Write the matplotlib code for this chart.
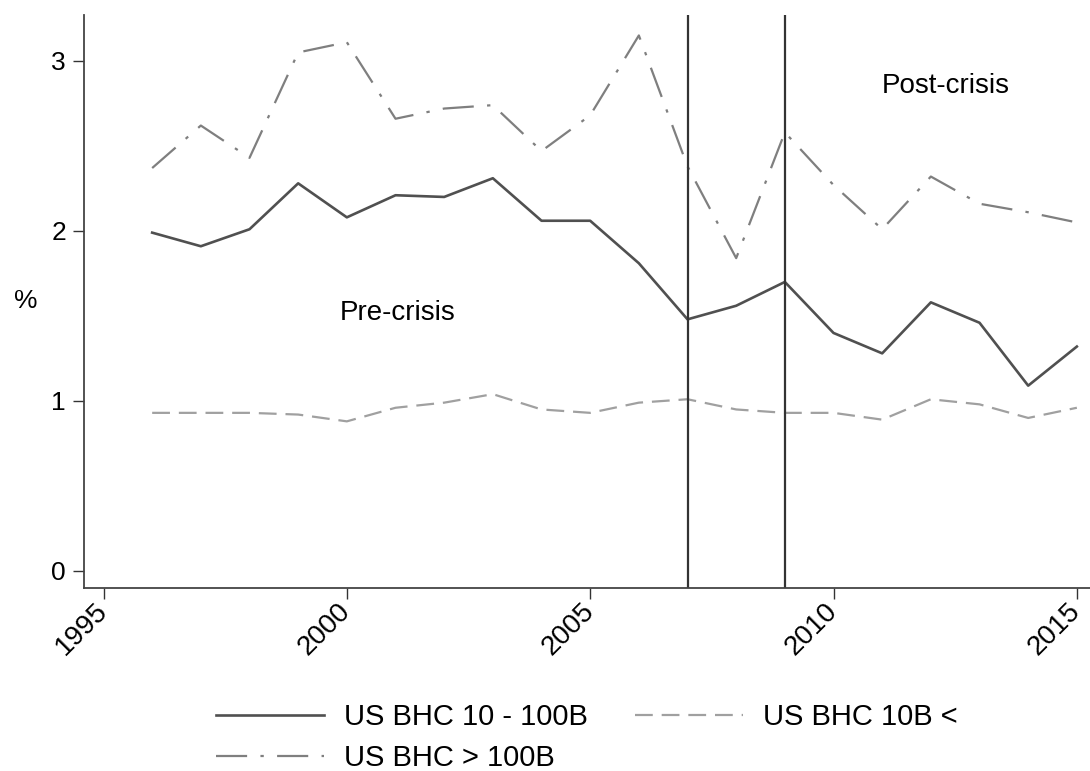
import matplotlib
matplotlib.use("Agg")
import matplotlib.pyplot as plt

plt.rcParams['font.family'] = ['Liberation Sans', 'DejaVu Sans']

# Data (percent)
years = list(range(1996, 2016))
bhc_10_100 = [1.99, 1.91, 2.01, 2.28, 2.08, 2.21, 2.20, 2.31, 2.06, 2.06,
              1.81, 1.48, 1.56, 1.70, 1.40, 1.28, 1.58, 1.46, 1.09, 1.32]
bhc_small = [0.93, 0.93, 0.93, 0.92, 0.88, 0.96, 0.99, 1.04, 0.95, 0.93,
             0.99, 1.01, 0.95, 0.93, 0.93, 0.89, 1.01, 0.98, 0.90, 0.96]
bhc_large = [2.37, 2.62, 2.43, 3.05, 3.11, 2.66, 2.72, 2.74, 2.47, 2.68,
             3.15, 2.38, 1.84, 2.58, 2.27, 2.01, 2.32, 2.16, 2.11, 2.05]
crisis_years = [2007, 2009]
x_ticks = [1995, 2000, 2005, 2010, 2015]
y_ticks = [0, 1, 2, 3]

fig = plt.figure(figsize=(10.9, 7.71), dpi=100)
ax = fig.add_axes([0.0771, 0.2374, 0.9229, 0.7431])

l1, = ax.plot(years, bhc_10_100, color='#505050', lw=1.9, label='US BHC 10 - 100B')
l2, = ax.plot(years, bhc_small, color='#a0a0a0', lw=1.6, dashes=(8, 4),
              label='US BHC 10B <')
l3, = ax.plot(years, bhc_large, color='#7f7f7f', lw=1.6, dashes=(14, 6, 1.5, 6),
              label='US BHC > 100B')

for yr in crisis_years:
    ax.axvline(yr, color='#333333', lw=1.6)

ax.text(2001.05, 1.52, 'Pre-crisis', fontsize=20, ha='center', va='center')
ax.text(2012.3, 2.85, 'Post-crisis', fontsize=20, ha='center', va='center')

ax.set_xlim(1994.6, 2015.27)
ax.set_ylim(-0.1, 3.27)
ax.set_xticks(x_ticks)
ax.set_yticks(y_ticks)
ax.set_xticklabels([str(t) for t in x_ticks], rotation=45, ha='right', va='center',
                   rotation_mode='anchor', fontsize=20)
ax.set_yticklabels([str(t) for t in y_ticks], fontsize=19)
ax.tick_params(axis='both', length=8, width=1, color='#333333', pad=5)
ax.tick_params(axis='x', pad=6)
ax.set_ylabel('%', rotation=0, fontsize=19, labelpad=18, va='center')

for side in ['top', 'right']:
    ax.spines[side].set_visible(False)
for side in ['left', 'bottom']:
    ax.spines[side].set_color('#444444')
    ax.spines[side].set_linewidth(1.3)

ax.legend([l1, l3, l2], [l1.get_label(), l3.get_label(), l2.get_label()],
          loc='upper center', bbox_to_anchor=(0.5, -0.155), ncol=2,
          frameon=False, fontsize=21, handlelength=3.7, handletextpad=0.7,
          columnspacing=1.6, labelspacing=0.45)

fig.savefig('out.png', dpi=100)
